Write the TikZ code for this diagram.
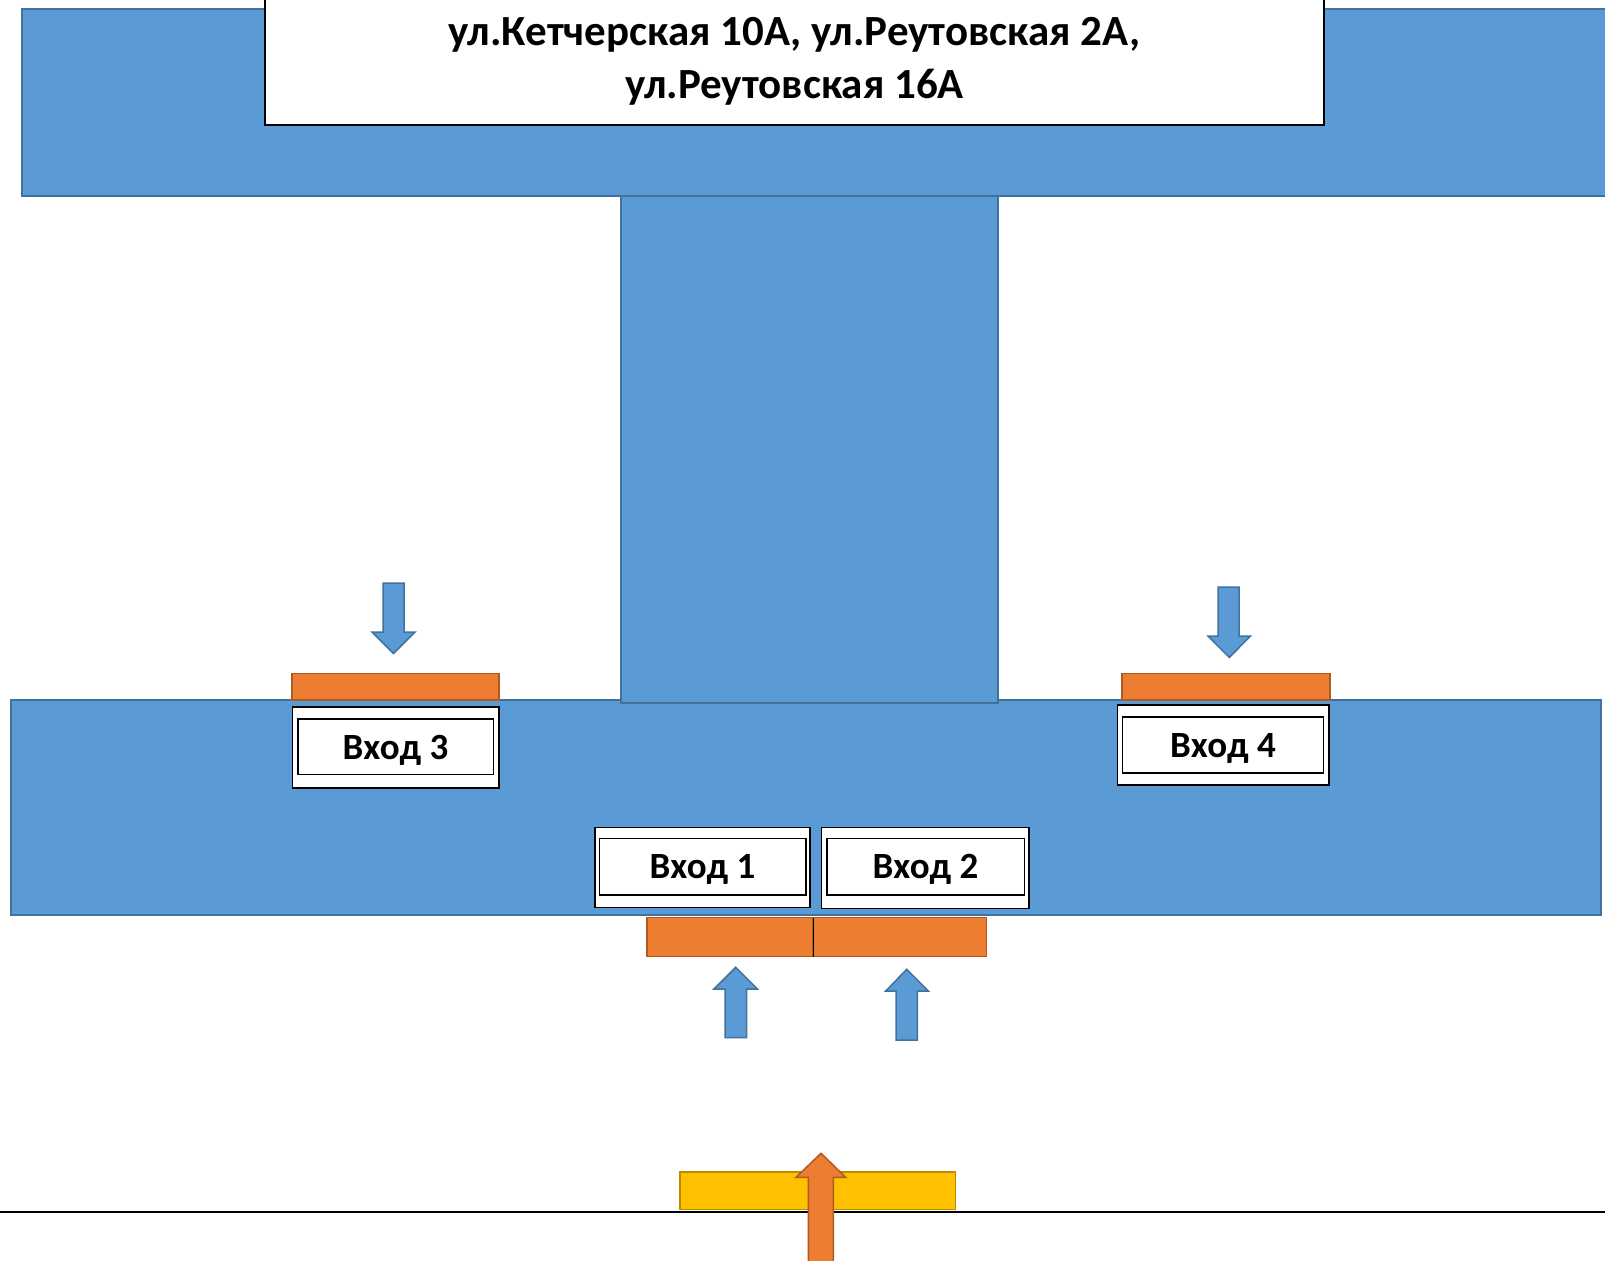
\documentclass[tikz,border=0pt]{standalone}
\usepackage{fontspec}
\setmainfont{Carlito}
\definecolor{bluef}{HTML}{5B9BD5}
\definecolor{blued}{HTML}{41719C}
\definecolor{orf}{HTML}{ED7D31}
\definecolor{ord}{HTML}{AE5A21}
\definecolor{yef}{HTML}{FFC000}
\definecolor{yed}{HTML}{BC8C00}
\begin{document}
\begin{tikzpicture}[x=1pt,y=-1pt,
  blk/.style={fill=bluef,draw=blued,line width=1.8pt},
  orb/.style={fill=orf,draw=ord,line width=1.8pt},
  yeb/.style={fill=yef,draw=yed,line width=1.8pt},
  whb/.style={fill=white,draw=black,line width=1.8pt},
  inb/.style={draw=black,line width=1.5pt},
  lbl/.style={font=\bfseries\fontsize{37}{44}\selectfont,inner sep=0pt,anchor=center},
  ttl/.style={font=\bfseries\fontsize{43}{52}\selectfont,inner sep=0pt,anchor=center},
  barr/.style={fill=bluef,draw=blued,line width=1.5pt,line join=miter},
  oarr/.style={fill=orf,draw=ord,line width=1.5pt,line join=miter}]
\useasboundingbox (0,0) rectangle (1605,1260);
\clip (0,0) rectangle (1605,1260);
% top band
\draw[blk] (22,9) rectangle (1620,196);
% title box
\draw[whb] (265,-10) rectangle (1324,125);
\node[ttl] (t1) at (794.5,35) {ул.Кетчерская 10А, ул.Реутовская 2А,};
\node[ttl] (t2) at (794.5,87) {ул.Реутовская 16А};
% bottom band
\draw[blk] (11,700) rectangle (1601,915);
% vertical block
\draw[blk] (621,196) rectangle (998,703);
% orange bars
\draw[orb] (292,673.5) rectangle (499,700);
\draw[orb] (1122,673.5) rectangle (1330,700);
\draw[orb] (647,917.5) rectangle (813.3,956.5);
\draw[orb] (813.3,917.5) rectangle (986.5,956.5);
\draw[black,line width=1pt] (813.3,917.5) -- (813.3,956.5);
% entrance boxes
\draw[whb] (292.5,707) rectangle (499,788);
\draw[inb] (298,719) rectangle (493.5,774.5);
\node[lbl] (v3) at (395.5,750) {Вход 3};
\draw[whb] (1117.5,705) rectangle (1329,785);
\draw[inb] (1122.5,717) rectangle (1323.5,773);
\node[lbl] (v4) at (1223,748) {Вход 4};
\draw[whb] (595,827.5) rectangle (810,907.5);
\draw[inb] (599.5,838.5) rectangle (806,895);
\node[lbl] (v1) at (702.5,869.5) {Вход 1};
\draw[whb] (821.5,827.5) rectangle (1029,908.5);
\draw[inb] (827,838.5) rectangle (1024.5,895);
\node[lbl] (v2) at (925.5,869.5) {Вход 2};
% blue down arrows
\draw[barr] (383,583) -- (404,583) -- (404,632) -- (415,632) -- (393.5,653.5) -- (372,632) -- (383,632) -- cycle;
\draw[barr] (1218,587) -- (1239,587) -- (1239,636) -- (1250.5,636) -- (1229.3,657.5) -- (1208,636) -- (1218,636) -- cycle;
% blue up arrows
\draw[barr] (725,1037.5) -- (746.5,1037.5) -- (746.5,989) -- (757.3,989) -- (735.7,967.3) -- (714,989) -- (725,989) -- cycle;
\draw[barr] (896,1040) -- (917.3,1040) -- (917.3,991) -- (928.3,991) -- (906.7,969.3) -- (885.7,991) -- (896,991) -- cycle;
% ground line
\draw[black,line width=1.5pt] (0,1212) -- (1605,1212);
% yellow bar
\draw[yeb] (680,1172) rectangle (955.5,1209.5);
% orange up arrow
\draw[oarr] (808.3,1270) -- (833.3,1270) -- (833.3,1177.3) -- (845.7,1177.3) -- (821,1153.3) -- (796,1177.3) -- (808.3,1177.3) -- cycle;
\end{tikzpicture}
\end{document}
